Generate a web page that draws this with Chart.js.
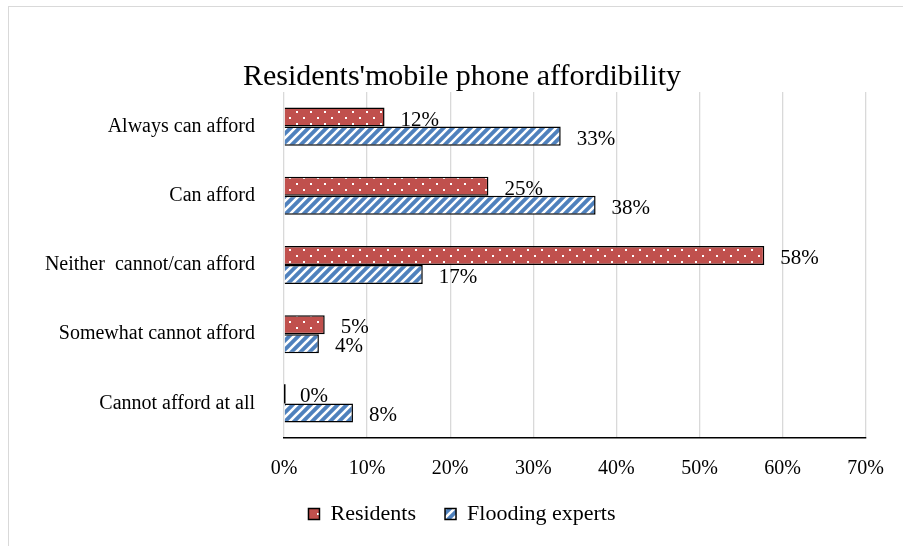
<!DOCTYPE html>
<html>
<head>
<meta charset="utf-8">
<title>Residents'mobile phone affordibility</title>
<script src="https://cdn.jsdelivr.net/npm/chart.js@4.4.1/dist/chart.umd.min.js"></script>
<style>
  html, body { margin: 0; padding: 0; background: #fff; overflow: hidden; }
  #wrap { position: relative; width: 903px; height: 546px; }
  #frame { position: absolute; left: 8px; top: 6px; width: 1000px; height: 1000px;
           border: 1px solid #d9d9d9; pointer-events: none; }
</style>
</head>
<body>
<div id="wrap">
  <canvas id="ChartAfford" width="903" height="546"></canvas>
  <div id="frame"></div>
</div>
<script>
(function () {
  "use strict";

  // Data (percent of respondents)
  const categories = [
    'Always can afford',
    'Can afford',
    'Neither  cannot/can afford',
    'Somewhat cannot afford',
    'Cannot afford at all'
  ];
  const residents = [12.1, 24.6, 57.8, 4.9, 0];
  const experts   = [33.3, 37.5, 16.7, 4.2, 8.3];
  const xTicks    = [0, 10, 20, 30, 40, 50, 60, 70];

  // Colors
  const red_500  = '#C0504D';
  const blue_500 = '#4F81BD';
  const grid_300 = '#d9d9d9';
  const serif    = "'Liberation Serif', 'Times New Roman', serif";

  // Dotted fill for residents
  function dotPattern(color) {
    const c = document.createElement('canvas');
    c.width = 14; c.height = 12;
    const g = c.getContext('2d');
    g.fillStyle = color;
    g.fillRect(0, 0, 14, 12);
    g.fillStyle = '#fff';
    g.fillRect(2, 3, 2, 2);
    g.fillRect(9, 9, 2, 2);
    return g.createPattern(c, 'repeat');
  }

  // Wide upward diagonal stripes for experts
  function stripePattern(color) {
    const s = 9;
    const c = document.createElement('canvas');
    c.width = s; c.height = s;
    const g = c.getContext('2d');
    g.fillStyle = color;
    g.fillRect(0, 0, s, s);
    g.strokeStyle = '#fff';
    g.lineWidth = 2.6;
    g.beginPath();
    g.moveTo(-2, s + 2); g.lineTo(s + 2, -2);
    g.moveTo(-2, 2);     g.lineTo(2, -2);
    g.moveTo(s - 2, s + 2); g.lineTo(s + 2, s - 2);
    g.stroke();
    return g.createPattern(c, 'repeat');
  }

  // Let the long category names run past the left edge of the y axis box
  const unclipY = {
    id: 'unclipY',
    afterLayout(chart) {
      chart.scales.y.left = 0;
    }
  };

  // Value labels to the right of each bar (and an outline for empty bars)
  const barLabels = {
    id: 'barLabels',
    afterDatasetsDraw(chart) {
      const ctx = chart.ctx;
      ctx.save();
      ctx.font = '21px ' + serif;
      ctx.fillStyle = '#000';
      ctx.strokeStyle = '#000';
      ctx.lineWidth = 1.5;
      ctx.textAlign = 'left';
      ctx.textBaseline = 'middle';
      chart.data.datasets.forEach((ds, i) => {
        chart.getDatasetMeta(i).data.forEach((bar, j) => {
          if (Math.abs(bar.x - bar.base) < 1) {
            ctx.beginPath();
            ctx.moveTo(bar.base + 0.75, bar.y - bar.height / 2);
            ctx.lineTo(bar.base + 0.75, bar.y + bar.height / 2);
            ctx.stroke();
          }
          ctx.fillText(Math.round(ds.data[j]) + '%', bar.x + 16, bar.y + 3);
        });
      });
      ctx.restore();
    }
  };

  const ctx = document.getElementById('ChartAfford').getContext('2d');
  new Chart(ctx, {
    type: 'bar',
    data: {
      labels: categories,
      datasets: [{
        label: 'Residents',
        data: residents,
        backgroundColor: dotPattern(red_500),
        borderColor: '#000',
        borderWidth: 1.5
      },
      {
        label: 'Flooding experts',
        data: experts,
        backgroundColor: stripePattern(blue_500),
        borderColor: '#000',
        borderWidth: 1.5
      }]
    },
    options: {
      indexAxis: 'y',
      responsive: false,
      animation: false,
      devicePixelRatio: 1,
      categoryPercentage: 0.55,
      barPercentage: 1.0,
      layout: {
        padding: { left: 58, right: 37, top: 0, bottom: 11 }
      },
      scales: {
        x: {
          min: 0,
          max: 70,
          afterBuildTicks: (scale) => { scale.ticks = xTicks.map(v => ({ value: v })); },
          grid: { color: grid_300, lineWidth: 1.3, drawTicks: false },
          border: { color: '#000', width: 1.5 },
          ticks: {
            padding: 19,
            color: '#000',
            font: { family: serif, size: 20 },
            callback: (value) => value + '%'
          },
          afterFit: (scale) => { scale.height = 36; }
        },
        y: {
          grid: { display: false },
          border: { display: false },
          ticks: {
            padding: 21,
            color: '#000',
            font: { family: serif, size: 20 }
          },
          afterFit: (scale) => { scale.width = 226; }
        }
      },
      plugins: {
        title: {
          display: true,
          text: "Residents'mobile phone affordibility",
          color: '#000',
          font: { family: serif, size: 30, weight: 'normal' },
          padding: { top: 59, bottom: -3 }
        },
        legend: {
          display: true,
          position: 'bottom',
          labels: {
            color: '#000',
            boxWidth: 11,
            boxHeight: 11,
            padding: 29,
            font: { family: serif, size: 22 }
          }
        },
        tooltip: { enabled: false }
      }
    },
    plugins: [unclipY, barLabels]
  });
})();
</script>
</body>
</html>
